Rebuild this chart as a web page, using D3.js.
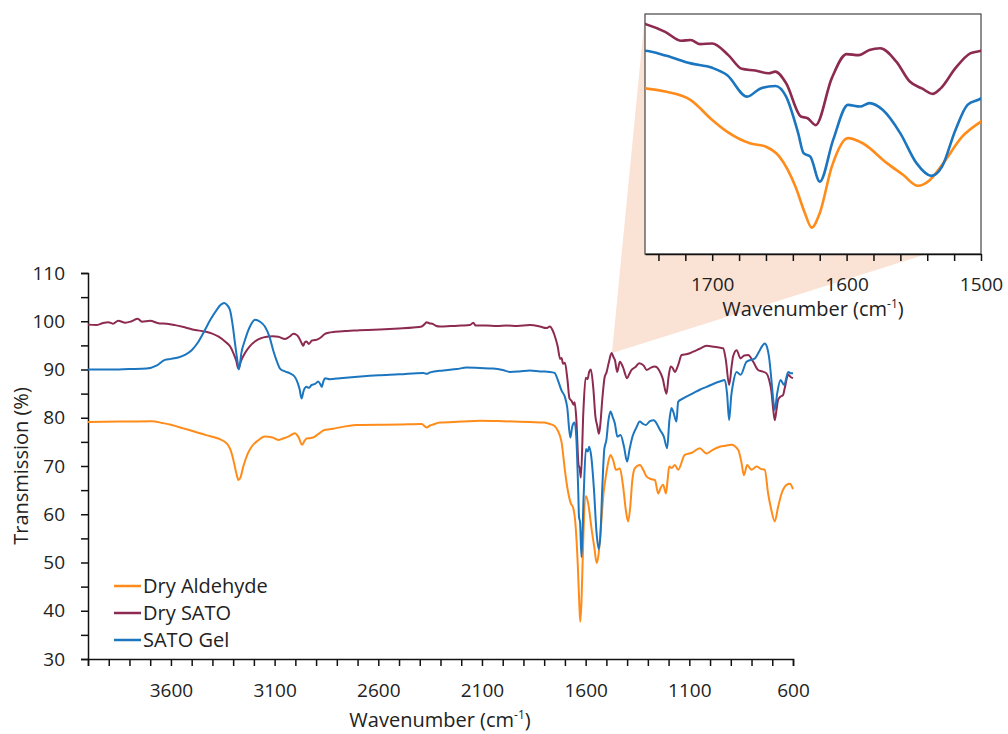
<!DOCTYPE html>
<html>
<head>
<meta charset="utf-8">
<script src="https://cdn.jsdelivr.net/npm/d3@7"></script>
<style>
  body { margin: 0; background: #fff; }
  text { font-family: "Open Sans", Lato, sans-serif; fill: #222; }
</style>
</head>
<body>
<div class="chart"></div>
<script>
// Series names and colours
var seriesNames = ["Dry Aldehyde", "Dry SATO", "SATO Gel"];
var seriesColors = ["#ff8c1a", "#8c2a50", "#1b75bf"];

// Spectra: [wavenumber (cm-1), transmission (%)]
var dryAldehyde = [
  [4000,79.1],[3850,79.2],[3693,79.3],[3640,78.9],[3596,78.5],[3540,77.8],[3484,77.1],[3430,76.4],
  [3372,75.7],[3331,74.7],[3315,73.6],[3307,72.6],[3295,70.5],[3283,68.2],[3275,67.1],[3265,67.6],
  [3251,69.9],[3230,72.5],[3211,74.0],[3180,75.3],[3147,76.1],[3110,75.9],[3082,75.4],[3060,75.7],
  [3034,76.1],[3002,76.8],[2985,76.0],[2967,74.4],[2956,75.2],[2946,75.7],[2925,75.8],[2906,76.1],
  [2890,76.6],[2857,77.5],[2833,77.6],[2809,77.8],[2705,78.5],[2500,78.6],[2391,78.7],[2367,78.0],
  [2350,78.4],[2335,78.6],[2303,79.0],[2200,79.2],[2110,79.4],[2000,79.3],[1869,79.1],[1800,79.0],
  [1772,78.7],[1750,78.3],[1734,77.3],[1716,74.9],[1700,69.1],[1689,65.7],[1672,62.3],[1660,61.3],
  [1650,58.4],[1638,49.6],[1631,41.9],[1626,37.7],[1620,41.9],[1611,55.5],[1599,63.8],[1588,62.3],
  [1570,56.5],[1558,53.1],[1547,49.9],[1538,51.6],[1528,56.5],[1514,64.2],[1500,68.6],[1490,71.0],
  [1480,72.3],[1466,71.0],[1454,69.2],[1435,69.5],[1420,66.0],[1405,60.5],[1395,58.5],[1385,61.5],
  [1375,67.0],[1363,69.5],[1339,70.2],[1320,69.0],[1306,67.8],[1285,67.3],[1266,67.1],[1250,64.3],
  [1238,65.5],[1226,66.1],[1213,64.3],[1205,67.0],[1197,69.9],[1185,69.6],[1170,70.2],[1154,69.2],
  [1122,72.3],[1085,72.8],[1050,73.7],[1017,72.6],[985,73.4],[953,74.0],[925,74.2],[897,74.4],
  [864,73.3],[848,70.6],[837,68.1],[821,70.2],[800,69.2],[776,69.9],[755,69.4],[736,69.2],
  [720,64.3],[705,61.0],[688,58.5],[672,61.5],[655,64.3],[631,66.1],[615,66.3],[600,65.2]
];

var drySato = [
  [4000,99.3],[3960,99.2],[3930,99.6],[3902,99.8],[3880,99.5],[3854,100.1],[3820,99.7],[3790,100.0],
  [3760,100.5],[3740,99.9],[3700,100.1],[3661,99.6],[3620,99.5],[3580,99.2],[3530,98.7],[3484,98.2],
  [3440,97.9],[3404,97.5],[3370,96.8],[3339,95.8],[3315,94.8],[3299,93.4],[3285,91.8],[3275,90.2],
  [3262,91.8],[3243,93.4],[3220,94.8],[3195,95.8],[3165,96.5],[3138,96.8],[3110,96.9],[3082,96.8],
  [3050,96.3],[3025,96.9],[3010,97.4],[2995,97.2],[2986,96.8],[2970,95.5],[2962,94.9],[2955,95.6],
  [2946,95.8],[2935,95.3],[2920,96.0],[2906,96.1],[2890,96.3],[2873,96.8],[2860,97.3],[2840,97.6],
  [2809,97.8],[2750,98.0],[2700,98.1],[2650,98.2],[2592,98.3],[2500,98.5],[2430,98.7],[2391,98.9],
  [2375,99.5],[2367,99.8],[2355,99.6],[2335,99.4],[2320,99.0],[2303,98.9],[2250,99.0],[2200,99.1],
  [2158,99.2],[2142,99.7],[2130,99.1],[2080,99.1],[2029,99.0],[1980,99.1],[1930,99.0],[1869,99.2],
  [1820,98.9],[1790,98.6],[1772,98.9],[1760,98.2],[1750,97.1],[1735,94.8],[1723,92.2],[1716,92.4],
  [1709,91.2],[1700,91.4],[1688,88.0],[1678,84.0],[1668,83.5],[1658,82.7],[1653,83.2],[1645,79.8],
  [1634,70.1],[1629,69.6],[1623,67.6],[1611,81.3],[1600,88.3],[1591,88.0],[1583,89.5],[1575,90.0],
  [1563,86.1],[1553,80.3],[1544,78.3],[1536,76.7],[1530,78.3],[1519,84.2],[1508,88.5],[1500,89.3],
  [1488,91.5],[1475,93.4],[1465,92.5],[1459,92.0],[1448,89.5],[1435,91.6],[1420,90.5],[1400,88.2],
  [1390,89.0],[1379,89.9],[1360,90.5],[1342,91.3],[1320,90.8],[1306,89.9],[1285,90.4],[1266,90.6],
  [1245,89.8],[1229,88.2],[1210,85.0],[1200,88.5],[1190,90.6],[1180,90.3],[1170,89.5],[1154,90.9],
  [1137,93.0],[1110,93.2],[1081,93.7],[1050,94.3],[1017,94.9],[980,94.7],[950,94.5],[937,94.4],
  [924,92.0],[908,86.8],[895,91.0],[889,92.7],[872,94.0],[853,92.3],[835,92.9],[816,93.0],
  [792,91.6],[768,89.9],[748,89.6],[728,89.2],[716,88.0],[704,85.4],[696,82.0],[688,79.5],
  [680,81.5],[672,83.7],[660,84.4],[648,84.7],[640,86.1],[623,88.9],[610,88.4],[600,88.2]
];

var satoGel = [
  [4000,90.0],[3900,90.0],[3800,90.1],[3717,90.2],[3670,90.8],[3629,92.0],[3600,92.2],[3565,92.5],
  [3530,93.1],[3500,94.0],[3470,95.6],[3436,98.2],[3410,100.3],[3380,102.3],[3360,103.4],[3343,103.8],
  [3328,103.3],[3315,102.3],[3300,98.5],[3291,95.4],[3280,92.0],[3272,90.0],[3260,93.5],[3243,96.1],
  [3220,98.8],[3195,100.3],[3170,99.9],[3147,98.9],[3125,96.8],[3107,94.0],[3090,91.8],[3074,90.2],
  [3050,89.6],[3026,89.2],[3005,88.6],[2994,87.8],[2980,86.0],[2970,84.0],[2960,85.6],[2946,86.4],
  [2935,86.2],[2921,86.8],[2905,87.0],[2890,87.5],[2880,87.0],[2873,86.4],[2865,87.5],[2857,88.2],
  [2833,88.0],[2785,88.2],[2700,88.5],[2600,88.8],[2500,89.0],[2383,89.3],[2367,89.1],[2350,89.4],
  [2287,89.8],[2220,90.1],[2174,90.4],[2110,90.3],[2046,90.2],[2000,89.9],[1965,89.5],[1920,89.6],
  [1869,89.8],[1820,89.6],[1772,89.5],[1750,89.3],[1734,87.8],[1716,85.6],[1700,84.3],[1689,82.2],
  [1674,75.9],[1664,78.3],[1653,79.0],[1645,75.9],[1636,65.2],[1632,59.4],[1627,58.4],[1620,51.1],
  [1610,63.3],[1599,73.5],[1590,73.0],[1583,74.0],[1573,72.0],[1560,65.2],[1548,56.5],[1537,52.8],
  [1529,55.5],[1519,66.2],[1510,73.5],[1500,75.4],[1490,79.5],[1480,81.3],[1470,80.2],[1459,78.8],
  [1447,76.1],[1432,76.4],[1415,74.0],[1400,70.9],[1388,73.5],[1374,76.1],[1355,78.0],[1339,79.2],
  [1325,78.8],[1310,78.5],[1290,79.3],[1271,79.5],[1255,78.6],[1242,77.5],[1223,76.1],[1207,73.7],
  [1196,79.5],[1186,82.0],[1178,81.3],[1162,79.2],[1154,83.3],[1130,84.0],[1081,85.1],[1050,85.8],
  [1017,86.4],[985,87.0],[953,87.5],[929,87.8],[918,85.0],[908,79.5],[898,84.5],[889,87.1],
  [872,89.5],[853,88.9],[824,91.6],[784,92.3],[760,94.0],[748,94.9],[736,95.4],[725,94.6],
  [716,92.7],[704,87.8],[696,84.0],[688,81.6],[676,85.1],[660,87.8],[643,86.8],[623,89.5],
  [610,89.2],[600,89.2]
];

var allSeries = [dryAldehyde, drySato, satoGel];

// Tick values
var xTickLabels = [3600, 3100, 2600, 2100, 1600, 1100, 600];
var yTickLabels = [30, 40, 50, 60, 70, 80, 90, 100, 110];
var insetTickLabels = [1700, 1600, 1500];

// SVG area
var svgWidth = 1008;
var svgHeight = 734;

var svg = d3.select(".chart")
  .append("svg")
  .attr("width", svgWidth)
  .attr("height", svgHeight);

// Main chart scales
var xScale = d3.scaleLinear().domain([4000, 600]).range([88, 793]);
var yScale = d3.scaleLinear().domain([30, 110]).range([659, 273]);

// Inset scales (zoom on 1750-1500)
var inset = { left: 645, top: 14, right: 981, bottom: 254 };
var xInset = d3.scaleLinear().domain([1750, 1500]).range([inset.left, inset.right]);
var yInset = d3.scaleLinear().domain([30, 100]).range([inset.bottom, inset.top]);

// Axes
var bottomAxis = d3.axisBottom(xScale)
  .tickValues(d3.range(4000, 599, -100))
  .tickSize(7)
  .tickFormat(d => xTickLabels.includes(d) ? d : "");

var leftAxis = d3.axisLeft(yScale)
  .tickValues(d3.range(30, 111, 5))
  .tickSize(7)
  .tickFormat(d => yTickLabels.includes(d) ? d : "");

var xAxisG = svg.append("g")
  .attr("transform", `translate(0, ${yScale.range()[0]})`)
  .call(bottomAxis);

var yAxisG = svg.append("g")
  .attr("transform", `translate(${xScale.range()[0]}, 0)`)
  .call(leftAxis);

[xAxisG, yAxisG].forEach(function(g) {
  g.select(".domain").attr("stroke", "#111").attr("stroke-width", 1.5);
  g.selectAll(".tick line").attr("stroke", "#111").attr("stroke-width", 1.5);
  g.selectAll("text").style("font-size", "19px").attr("fill", "#222");
});
xAxisG.selectAll("text").attr("dy", "1.47em");
yAxisG.selectAll("text").attr("x", -23);

// Axis titles
svg.append("text")
  .attr("transform", "rotate(-90)")
  .attr("x", -466)
  .attr("y", 28)
  .attr("text-anchor", "middle")
  .style("font-size", "20px")
  .text("Transmission (%)");

function waveTitle(x, y) {
  var t = svg.append("text")
    .attr("x", x)
    .attr("y", y)
    .attr("text-anchor", "middle")
    .style("font-size", "20px");
  t.append("tspan").text("Wavenumber (cm");
  t.append("tspan").attr("dy", -8).style("font-size", "12px").text("-1");
  t.append("tspan").attr("dy", 8).text(")");
}
waveTitle(440, 727);

// Zoom wedge pointing at the inset
var apex = [xScale(1473), yScale(93.4)];
svg.append("polygon")
  .attr("points", [apex, [inset.left, inset.top], [inset.right, inset.bottom - 17]].map(p => p.join(",")).join(" "))
  .attr("fill", "#fae2d4");

// Spectra in the main chart
var line = d3.line()
  .x(d => xScale(d[0]))
  .y(d => yScale(d[1]))
  .curve(d3.curveMonotoneX);

allSeries.forEach(function(data, i) {
  svg.append("path")
    .datum(data)
    .attr("fill", "none")
    .attr("stroke", seriesColors[i])
    .attr("stroke-width", 2)
    .attr("stroke-linejoin", "round")
    .attr("d", line);
});

// Legend
seriesNames.forEach(function(name, i) {
  var y = 586 + i * 27;
  svg.append("line")
    .attr("x1", 114).attr("x2", 141)
    .attr("y1", y).attr("y2", y)
    .attr("stroke", seriesColors[i])
    .attr("stroke-width", 2.5);
  svg.append("text")
    .attr("x", 143)
    .attr("y", y + 7)
    .style("font-size", "20px")
    .text(name);
});

// Inset box
svg.append("rect")
  .attr("x", inset.left).attr("y", inset.top)
  .attr("width", inset.right - inset.left)
  .attr("height", inset.bottom - inset.top)
  .attr("fill", "#fff")
  .attr("stroke", "#444")
  .attr("stroke-width", 1.2);

svg.append("clipPath").attr("id", "insetClip")
  .append("rect")
  .attr("x", inset.left).attr("y", inset.top)
  .attr("width", inset.right - inset.left)
  .attr("height", inset.bottom - inset.top);

var insetLine = d3.line()
  .x(d => xInset(d[0]))
  .y(d => yInset(d[1]))
  .curve(d3.curveMonotoneX);

var insetGroup = svg.append("g").attr("clip-path", "url(#insetClip)");
allSeries.forEach(function(data, i) {
  insetGroup.append("path")
    .datum(data.filter(d => d[0] <= 1800 && d[0] >= 1450))
    .attr("fill", "none")
    .attr("stroke", seriesColors[i])
    .attr("stroke-width", 2.6)
    .attr("stroke-linejoin", "round")
    .attr("d", insetLine);
});

var insetAxis = d3.axisBottom(xInset)
  .tickValues(d3.range(1740, 1499, -20))
  .tickSize(7)
  .tickSizeOuter(0)
  .tickFormat(d => insetTickLabels.includes(d) ? d : "");

var insetAxisG = svg.append("g")
  .attr("transform", `translate(0, ${inset.bottom})`)
  .call(insetAxis);
insetAxisG.select(".domain").attr("stroke", "#111").attr("stroke-width", 1.5);
insetAxisG.selectAll(".tick line").attr("stroke", "#111").attr("stroke-width", 1.5);
insetAxisG.selectAll("text").style("font-size", "19px").attr("fill", "#222").attr("dy", "1.42em");

waveTitle(813, 316);
</script>
</body>
</html>
